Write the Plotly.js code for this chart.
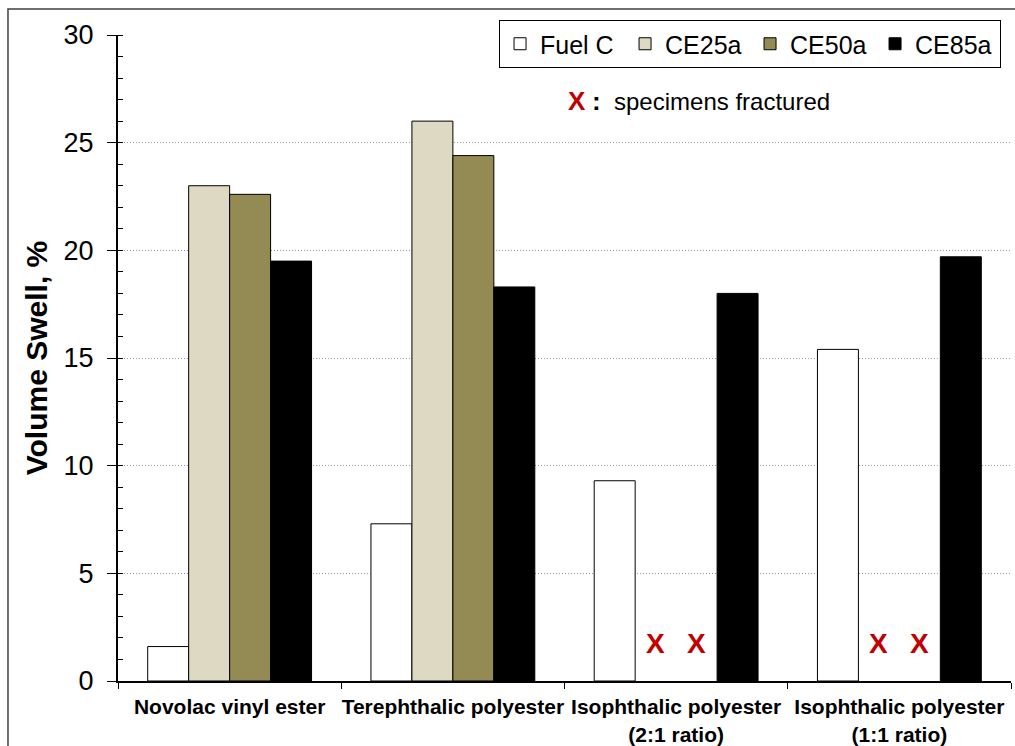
<!DOCTYPE html>
<html>
<head>
<meta charset="utf-8">
<script src="https://cdn.plot.ly/plotly-3.0.1.min.js"></script>
<style>
  html, body { margin: 0; padding: 0; background: #fff; overflow: hidden; }
  #chart { width: 1015px; height: 746px; }
</style>
</head>
<body>
<div id="chart"></div>
<script>
// ---- data ----
var categories = [
  'Novolac vinyl ester',
  'Terephthalic polyester',
  'Isophthalic polyester<br>(2:1 ratio)',
  'Isophthalic polyester<br>(1:1 ratio)'
];
var seriesNames = ['Fuel C', 'CE25a', 'CE50a', 'CE85a'];
var fuelC = [1.6, 7.3, 9.3, 15.4];
var ce25a = [23.0, 26.0, null, null];
var ce50a = [22.6, 24.4, null, null];
var ce85a = [19.5, 18.3, 18.0, 19.7];
// specimens fractured (marked with a red X)
var fracturedCategory = [categories[2], categories[2], categories[3], categories[3]];
var fracturedSeries = ['CE25a', 'CE50a', 'CE25a', 'CE50a'];
var yTickVals = [0, 5, 10, 15, 20, 25, 30];

// ---- style ----
var FONT = '"Liberation Sans", Arial, sans-serif';
var colors = ['#FFFFFF', '#DDD9C3', '#948A54', '#000000'];
var seriesValues = [fuelC, ce25a, ce50a, ce85a];
var BARGAP = 0.266;

var traces = seriesNames.map(function (name, i) {
  return {
    type: 'bar',
    name: name,
    x: categories,
    y: seriesValues[i],
    marker: { color: colors[i], line: { color: '#000000', width: 1 } },
    hoverinfo: 'x+y+name'
  };
});

// X markers positioned at the missing bars' slots
var nSeries = seriesNames.length;
var slot = (1 - BARGAP) / nSeries;
var annotations = fracturedCategory.map(function (cat, k) {
  var ci = categories.indexOf(cat);
  var si = seriesNames.indexOf(fracturedSeries[k]);
  var xPos = ci - (1 - BARGAP) / 2 + slot * (si + 0.5);
  return {
    x: xPos, y: 0, xref: 'x', yref: 'y',
    text: '<b>X</b>', showarrow: false,
    yanchor: 'bottom', yshift: 20,
    font: { family: FONT, size: 28, color: '#C00000' }
  };
});
annotations.push({
  xref: 'paper', yref: 'paper', x: 0.502, y: 0.898,
  xanchor: 'left', yanchor: 'middle', showarrow: false,
  text: '<b><span style="color:#C00000;font-size:26px">X</span> <span style="font-size:26px">:</span></b>&nbsp; specimens fractured',
  font: { family: FONT, size: 24, color: '#000000' }
});

var layout = {
  width: 1015, height: 746,
  paper_bgcolor: '#FFFFFF', plot_bgcolor: '#FFFFFF',
  margin: { l: 118, r: 4, t: 35, b: 65 },
  barmode: 'group', bargap: BARGAP, bargroupgap: 0,
  font: { family: FONT, color: '#000000' },
  showlegend: true,
  legend: {
    orientation: 'h', x: 0.4267, xanchor: 'left', y: 1.0232, yanchor: 'top',
    bgcolor: '#FFFFFF', bordercolor: '#000000', borderwidth: 1,
    font: { family: FONT, size: 25, color: '#000000' },
    entrywidth: 80, entrywidthmode: 'pixels', traceorder: 'normal'
  },
  xaxis: {
    type: 'category', tickangle: 0,
    showline: true, linecolor: '#000000', linewidth: 2,
    ticks: 'outside', tickson: 'boundaries', ticklen: 6, tickcolor: '#000000', tickwidth: 1,
    tickfont: { family: FONT, size: 21, color: '#000000', weight: 'bold' },
    ticklabelstandoff: 6,
    showgrid: false, zeroline: false, fixedrange: true
  },
  yaxis: {
    range: [0, 30], tickvals: yTickVals,
    showline: true, linecolor: '#000000', linewidth: 2,
    ticks: 'outside', ticklen: 9, tickcolor: '#000000', tickwidth: 1,
    tickfont: { family: FONT, size: 27, color: '#000000' },
    ticklabelstandoff: 8,
    showgrid: true, gridcolor: '#9A9A9A', griddash: '1px,2px', gridwidth: 1,
    zeroline: false,
    minor: { dtick: 1, ticks: 'inside', ticklen: 5, tickcolor: '#000000', tickwidth: 1, showgrid: false },
    title: { text: 'Volume Swell, %', font: { family: FONT, size: 30, color: '#000000', weight: 'bold' } },
    fixedrange: true
  },
  annotations: annotations,
  shapes: [{
    type: 'rect', xref: 'paper', yref: 'paper',
    x0: -0.1232, x1: 1.2, y0: -0.3, y1: 1.0402,
    line: { color: '#404040', width: 1.5 }, fillcolor: 'rgba(0,0,0,0)', layer: 'above'
  }]
};

Plotly.newPlot('chart', traces, layout, { displayModeBar: false, staticPlot: true });
</script>
</body>
</html>
